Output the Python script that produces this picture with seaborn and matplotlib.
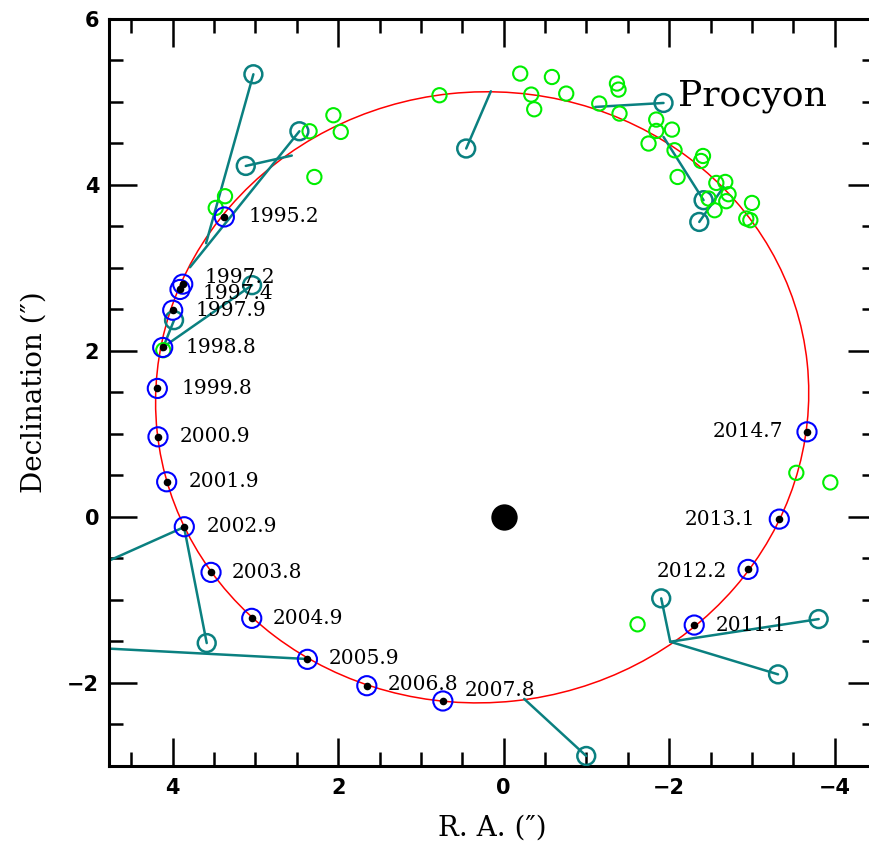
"""
Procyon AB relative orbit: epoch positions, historical measures, outliers.
"""

import numpy as np
import pandas as pd
import matplotlib
matplotlib.use("Agg")
import matplotlib.pyplot as plt
from matplotlib.patches import Ellipse
from matplotlib.ticker import MultipleLocator
import seaborn as sns

# ── Data (arcsec) ────────────────────────────────────────────────────────────
YEARS     = ["1995.2", "1997.2", "1997.4", "1997.9", "1998.8", "1999.8",
             "2000.9", "2001.9", "2002.9", "2003.8", "2004.9", "2005.9",
             "2006.8", "2007.8", "2011.1", "2012.2", "2013.1", "2014.7"]
RA_EPOCH  = [3.376, 3.879, 3.912, 4.000, 4.121, 4.186, 4.178, 4.073, 3.860,
             3.537, 3.045, 2.372, 1.654, 0.735, -2.303, -2.953, -3.331, -3.666]
DEC_EPOCH = [3.614, 2.804, 2.740, 2.490, 2.041, 1.547, 0.964, 0.422, -0.120,
             -0.670, -1.224, -1.718, -2.036, -2.220, -1.305, -0.634, -0.028, 1.024]

# historical measures (green)
RA_HIST  = [-0.583, -0.756, -1.369, -1.388, -1.155, -1.400, -1.844, -1.844,
            -2.034, -1.751, -2.065, -2.409, -2.385, -2.102, -2.570, -2.678,
            -2.718, -2.476, -2.549, -2.690, -3.001, -2.932, -2.981, 0.776,
            -0.200, -0.333, -0.369, 2.058, 1.969, 2.346, 2.288, 3.368, 3.480,
            4.114, -3.537, -3.948, -1.618]
DEC_HIST = [5.301, 5.101, 5.222, 5.149, 4.981, 4.860, 4.788, 4.651, 4.667,
            4.499, 4.418, 4.349, 4.289, 4.096, 4.024, 4.036, 3.888, 3.836,
            3.695, 3.804, 3.783, 3.595, 3.575, 5.081, 5.342, 5.089, 4.912,
            4.840, 4.639, 4.647, 4.096, 3.864, 3.723, 2.008, 0.530, 0.414,
            -1.296]

# discrepant measures (teal) and the orbit point each one is tied to
RA_OUT   = [3.025, 3.117, 2.469, 3.041, 3.984, 3.589, 5.242, 5.363, 0.453,
            -1.932, -2.416, -2.364, -0.998, -1.904, -3.807, -3.316]
DEC_OUT  = [5.334, 4.229, 4.647, 2.792, 2.370, -1.522, -0.739, -1.558, 4.439,
            4.988, 3.816, 3.554, -2.883, -0.983, -1.233, -1.899]
RA_JOIN  = [3.597, 2.561, 3.791, 4.081, 4.129, 3.863, 3.863, 2.376, 0.155,
            -1.106, -1.932, -2.658, -0.248, -2.013, -2.013, -2.013]
DEC_JOIN = [3.298, 4.354, 3.008, 2.069, 2.008, -0.124, -0.124, -1.714, 5.129,
            4.940, 4.578, 3.976, -2.195, -1.506, -1.506, -1.506]

STAR_RA  = [0.0]
STAR_DEC = [0.0]

# apparent orbit ellipse
ORBIT_CENTER = (0.26, 1.44)
ORBIT_WIDTH  = 7.90
ORBIT_HEIGHT = 7.36
ORBIT_ANGLE  = -6.0

# label offsets from each epoch point, in pixels (dx, dy)
LABEL_OFFSETS = [(24, 0), (22, 7), (22, -4), (23, 0), (23, 0), (24, 0),
                 (22, 0), (22, 0), (22, 0), (21, 0), (21, 0), (21, 1),
                 (21, 1), (22, 10), (21, 0), (-21, -2), (-24, 0), (-24, 0)]

RED   = "#ff0000"
BLUE  = "#0000ff"
GREEN = "#00ee00"
TEAL  = "#0a8080"

SERIF = ["DejaVu Serif"]


def main():
    sns.set_style("ticks")
    plt.rcParams["font.family"] = ["DejaVu Sans"]
    plt.rcParams.update({
        "text.color": "black",
        "axes.labelcolor": "black",
        "xtick.color": "black",
        "ytick.color": "black",
        "axes.edgecolor": "black",
    })

    fig = plt.figure(figsize=(8.70, 8.56), dpi=100)
    ax = fig.add_axes([0.1253, 0.1055, 0.8816, 0.8723])

    # orbit
    ax.add_patch(Ellipse(ORBIT_CENTER, ORBIT_WIDTH, ORBIT_HEIGHT,
                         angle=ORBIT_ANGLE, fill=False, color=RED,
                         lw=1.1, zorder=1))

    # residual lines for discrepant measures
    n = len(RA_OUT)
    seg = pd.DataFrame({
        "seg": np.repeat(np.arange(n), 2),
        "ra":  np.ravel(np.column_stack([RA_JOIN, RA_OUT])),
        "dec": np.ravel(np.column_stack([DEC_JOIN, DEC_OUT])),
    })
    sns.lineplot(data=seg, x="ra", y="dec", units="seg", estimator=None,
                 sort=False, color=TEAL, lw=1.8, ax=ax, zorder=2)

    sns.scatterplot(x=RA_OUT, y=DEC_OUT, s=165, marker="o",
                    facecolor="none", edgecolor=TEAL, linewidth=1.8,
                    ax=ax, zorder=3)
    sns.scatterplot(x=RA_HIST, y=DEC_HIST, s=105, marker="o",
                    facecolor="none", edgecolor=GREEN, linewidth=1.5,
                    ax=ax, zorder=3)
    sns.scatterplot(x=RA_EPOCH, y=DEC_EPOCH, s=190, marker="o",
                    facecolor="none", edgecolor=BLUE, linewidth=1.5,
                    ax=ax, zorder=4)
    sns.scatterplot(x=RA_EPOCH, y=DEC_EPOCH, s=30, marker="o",
                    color="black", edgecolor="black", linewidth=0,
                    ax=ax, zorder=5)
    sns.scatterplot(x=STAR_RA, y=STAR_DEC, s=360, marker="o",
                    color="black", edgecolor="black", linewidth=0,
                    ax=ax, zorder=5)

    for year, ra, dec, (dx, dy) in zip(YEARS, RA_EPOCH, DEC_EPOCH, LABEL_OFFSETS):
        ax.annotate(year, (ra, dec), xytext=(dx, dy), textcoords="offset pixels",
                    ha="left" if dx > 0 else "right", va="center",
                    fontsize=14.5, family=SERIF, color="black", zorder=6)

    ax.text(-2.11, 4.96, "Procyon", fontsize=26, family=SERIF,
            color="black", ha="left", va="baseline")

    # axes
    ax.set_xlim(4.77, -4.50)
    ax.set_ylim(-3.0, 6.0)
    ax.xaxis.set_major_locator(MultipleLocator(2))
    ax.xaxis.set_minor_locator(MultipleLocator(0.5))
    ax.yaxis.set_major_locator(MultipleLocator(2))
    ax.yaxis.set_minor_locator(MultipleLocator(0.5))
    ax.tick_params(which="both", direction="in", top=True, right=True,
                   width=1.8, color="black", labelcolor="black")
    ax.tick_params(which="major", length=20, labelsize=15, pad=9)
    ax.tick_params(axis="y", which="major", pad=7)
    ax.tick_params(which="minor", length=10)
    plt.setp(ax.get_xticklabels() + ax.get_yticklabels(), fontweight="bold")
    for sp in ax.spines.values():
        sp.set_linewidth(2.2)
        sp.set_color("black")

    ax.set_xlabel("R. A. (\u2033)", fontsize=20, family=SERIF,
                  color="black", labelpad=12)
    ax.set_ylabel("Declination (\u2033)", fontsize=20, family=SERIF,
                  color="black", labelpad=14)

    fig.savefig("out.png", dpi=100)
    plt.close(fig)


if __name__ == "__main__":
    main()
